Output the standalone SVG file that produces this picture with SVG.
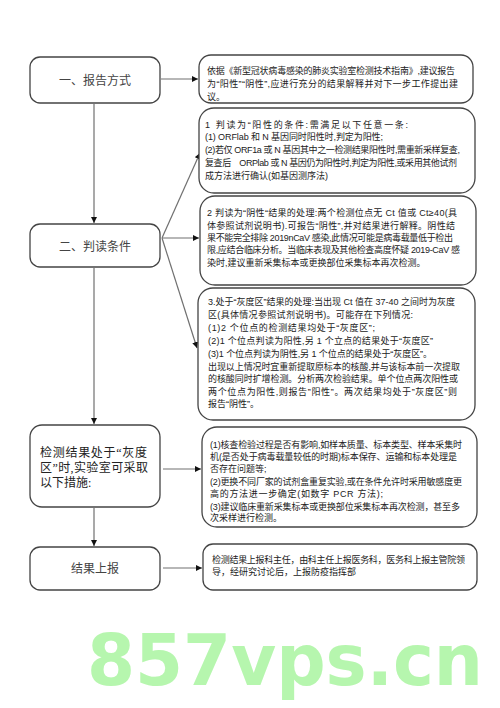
<svg xmlns="http://www.w3.org/2000/svg" width="500" height="708" viewBox="0 0 500 708">
<defs>
<marker id="ah" viewBox="0 0 10 10" refX="10" refY="5" markerWidth="6" markerHeight="6" markerUnits="userSpaceOnUse" orient="auto">
<path d="M0,0 L10,5 L0,10 z" fill="#111"/>
</marker>
<style>
.lb{fill:#fff;stroke:#444;stroke-width:1.3}
.rb{fill:#fff;stroke:#444;stroke-width:1.3}
.lt{font-family:"Liberation Serif","Noto Sans CJK SC",serif;font-size:12px;fill:#444}
.rt{font-family:"Liberation Sans","Noto Sans CJK SC",sans-serif;font-size:9px;fill:#222}
.cn{stroke:#707070;stroke-width:1.2;fill:none}
.wm{font-family:"DejaVu Sans",sans-serif;font-weight:bold;font-size:71px;fill:#b6f6ae}
</style>
</defs>
<rect width="500" height="708" fill="#fff"/>

<g id="connectors">
<line class="cn" x1="161" y1="79" x2="198" y2="79" marker-end="url(#ah)"/>
<line class="cn" x1="94" y1="104" x2="94" y2="223" marker-end="url(#ah)"/>
<line class="cn" x1="162" y1="238" x2="200" y2="153" marker-end="url(#ah)"/>
<line class="cn" x1="162" y1="238" x2="199" y2="238" marker-end="url(#ah)"/>
<line class="cn" x1="162" y1="238" x2="197" y2="348" marker-end="url(#ah)"/>
<line class="cn" x1="94" y1="268" x2="94" y2="424" marker-end="url(#ah)"/>
<line class="cn" x1="163" y1="469" x2="201" y2="469" marker-end="url(#ah)"/>
<line class="cn" x1="94" y1="508" x2="94" y2="546" marker-end="url(#ah)"/>
<line class="cn" x1="163" y1="568" x2="202" y2="568" marker-end="url(#ah)"/>
</g>

<g id="n-report-method">
<rect class="lb" x="30" y="57" width="130" height="46" rx="10"/>
<text class="lt" x="95" y="85" text-anchor="middle">一、报告方式</text>
</g>

<g id="n-judge">
<rect class="lb" x="30" y="224" width="130" height="43" rx="10"/>
<text class="lt" x="95" y="251" text-anchor="middle">二、判读条件</text>
</g>

<g id="n-grey">
<rect class="lb" x="30" y="425" width="130" height="82" rx="12"/>
<text class="lt" x="40" y="457" style="fill:#222" textLength="107" lengthAdjust="spacing">检测结果处于“灰度</text>
<text class="lt" x="40" y="472" style="fill:#222" textLength="108" lengthAdjust="spacing">区”时,实验室可采取</text>
<text class="lt" x="40" y="487" style="fill:#222">以下措施:</text>
</g>

<g id="n-report">
<rect class="lb" x="30" y="547" width="130" height="43" rx="10"/>
<text class="lt" x="95" y="573" text-anchor="middle">结果上报</text>
</g>

<g id="r-basis">
<rect class="rb" x="199" y="55" width="274" height="48" rx="12"/>
<text class="rt" x="207" y="74" textLength="248" lengthAdjust="spacing">依据《新型冠状病毒感染的肺炎实验室检测技术指南》,建议报告</text>
<text class="rt" x="207" y="87" textLength="251" lengthAdjust="spacing">为“阳性”“阴性”,应进行充分的结果解释并对下一步工作提出建</text>
<text class="rt" x="207" y="100">议。</text>
</g>

<g id="r-positive">
<rect class="rb" x="199" y="108" width="276" height="85" rx="15"/>
<text class="rt" x="205" y="128" textLength="203" lengthAdjust="spacing">1 判读为“阳性的条件:需满足以下任意一条:</text>
<text class="rt" x="205" y="140" textLength="178" lengthAdjust="spacing">(1) ORFlab 和 N 基因同时阳性时,判定为阳性;</text>
<text class="rt" x="205" y="153" textLength="255" lengthAdjust="spacing">(2)若仅 ORF1a 或 N 基因其中之一检测结果阳性时,需重新采样复查,</text>
<text class="rt" x="205" y="166" textLength="252" lengthAdjust="spacing">复查后　ORPlab 或 N 基因仍为阳性时,判定为阳性,或采用其他试剂</text>
<text class="rt" x="205" y="179">成方法进行确认(如基因测序法)</text>
</g>

<g id="r-negative">
<rect class="rb" x="200" y="196" width="276" height="89" rx="15"/>
<text class="rt" x="207" y="216" textLength="250" lengthAdjust="spacing">2 判读为“阴性“结果的处理:两个检测位点无 Ct 值或 Ct≥40(具</text>
<text class="rt" x="207" y="228.5" textLength="248" lengthAdjust="spacing">体参照试剂说明书).可报告“阴性”,并对结果进行解释。阴性结</text>
<text class="rt" x="207" y="241" textLength="246" lengthAdjust="spacing">果不能完全排除 2019nCaV 感染,此情况可能是病毒载量低于检出</text>
<text class="rt" x="207" y="253" textLength="253" lengthAdjust="spacing">限,应结合临床分析。当临床表现及其他检查高度怀疑 2019-CaV 感</text>
<text class="rt" x="207" y="265.5">染时,建议重新采集标本或更换部位采集标本再次检测。</text>
</g>

<g id="r-grey">
<rect class="rb" x="198" y="288" width="277" height="132" rx="15"/>
<text class="rt" x="208" y="305" textLength="247" lengthAdjust="spacing">3.处于“灰度区”结果的处理:当出现 Ct 值在 37-40 之间时为灰度</text>
<text class="rt" x="208" y="318" textLength="205" lengthAdjust="spacing">区(具体情况参照试剂说明书)。可能存在下列情况:</text>
<text class="rt" x="208" y="331" textLength="167" lengthAdjust="spacing">(1)2 个位点的检测结果均处于“灰度区”;</text>
<text class="rt" x="208" y="343.5" textLength="225" lengthAdjust="spacing">(2)1 个位点判读为阳性,另 1 个立点的结果处于“灰度区”</text>
<text class="rt" x="208" y="356.5" textLength="224" lengthAdjust="spacing">(3)1 个位点判读为阴性,另 1 个位点的结果处于“灰度区”。</text>
<text class="rt" x="208" y="369.5" textLength="252" lengthAdjust="spacing">出现以上情况时宜重新提取原标本的核酸,并与该标本前一次提取</text>
<text class="rt" x="208" y="382" textLength="250" lengthAdjust="spacing">的核酸同时扩增检测。分析两次检验结果。单个位点两次阳性或</text>
<text class="rt" x="208" y="395" textLength="249" lengthAdjust="spacing">两个位点为阳性,则报告”阳性”。两次结果均处于”灰度区”则</text>
<text class="rt" x="208" y="407">报告“阴性”。</text>
</g>

<g id="r-measures">
<rect class="rb" x="202" y="427" width="275" height="100" rx="15"/>
<text class="rt" x="210" y="448" textLength="252" lengthAdjust="spacing">(1)核查检验过程是否有影响,如样本质量、标本类型、样本采集时</text>
<text class="rt" x="210" y="460" textLength="247" lengthAdjust="spacing">机(是否处于病毒载量较低的时期)标本保存、运输和标本处理是</text>
<text class="rt" x="210" y="472">否存在问题等;</text>
<text class="rt" x="210" y="485" textLength="252" lengthAdjust="spacing">(2)更换不同厂家的试剂盒重复实验,或在条件允许时采用敏感度更</text>
<text class="rt" x="210" y="497" textLength="173" lengthAdjust="spacing">高的方法进一步确定(如数字 PCR 方法);</text>
<text class="rt" x="210" y="510" textLength="250" lengthAdjust="spacing">(3)建议临床重新采集标本或更换部位采集标本再次检测，甚至多</text>
<text class="rt" x="210" y="521">次采样进行检测。</text>
</g>

<g id="r-report">
<rect class="rb" x="203" y="544" width="274" height="46" rx="10"/>
<text class="rt" x="212" y="563" textLength="253" lengthAdjust="spacing">检测结果上报科主任，由科主任上报医务科，医务科上报主管院领</text>
<text class="rt" x="212" y="575">导，经研究讨论后，上报防疫指挥部</text>
</g>

<text class="wm" x="87" y="685" textLength="396" lengthAdjust="spacingAndGlyphs">857vps.cn</text>
</svg>
